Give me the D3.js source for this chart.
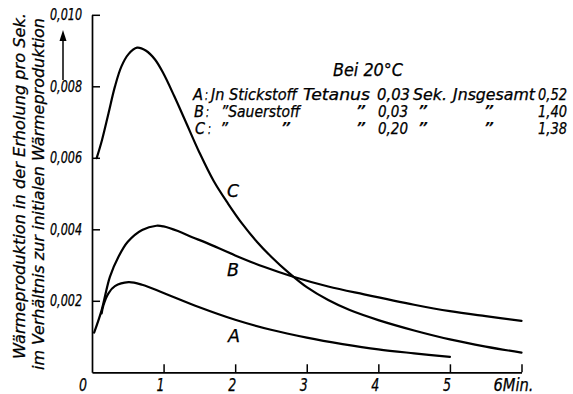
<!DOCTYPE html>
<html><head><meta charset="utf-8">
<script src="https://cdn.jsdelivr.net/npm/d3@7/dist/d3.min.js"></script>
<style>
html,body{margin:0;padding:0;background:#fff;}
svg text{font-family:"DejaVu Sans Condensed","Liberation Sans Narrow","DejaVu Sans",sans-serif;font-style:italic;fill:#000;stroke:#000;stroke-width:0.25px;}
</style></head>
<body>
<svg id="chart" width="573" height="394"></svg>
<script>
// ---- data ----
const xTicks = [0, 1, 2, 3, 4, 5, 6];
const xTickLabels = ["0", "1", "2", "3", "4", "5", "6Min."];
const yTicks = [0.002, 0.004, 0.006, 0.008, 0.010];
const yTickLabels = ["0,002", "0,004", "0,006", "0,008", "0,010"];

const timeA  = [0.135, 0.16, 0.23, 0.32, 0.51, 0.7, 1.0, 1.5, 2.0, 2.5, 3.0, 3.5, 4.0, 4.5, 5.0];
const valueA = [0.00165, 0.00188, 0.00221, 0.00241, 0.00252, 0.00245, 0.00222, 0.00182, 0.00147, 0.00119, 0.00097, 0.00079, 0.00064, 0.00053, 0.00043];

const timeB  = [0.03, 0.135, 0.25, 0.37, 0.5, 0.7, 0.9, 1.0, 1.2, 1.4, 1.6, 2.0, 2.4, 2.8, 3.3, 3.8, 4.5, 5.0, 5.5, 6.0];
const valueB = [0.00111, 0.00174, 0.00267, 0.00323, 0.00365, 0.00398, 0.00410, 0.00408, 0.00395, 0.00378, 0.00362, 0.00327, 0.00295, 0.00268, 0.00240, 0.00218, 0.00189, 0.00171, 0.00157, 0.00144];

const timeC  = [0.065, 0.14, 0.23, 0.32, 0.41, 0.51, 0.63, 0.75, 0.88, 1.0, 1.15, 1.3, 1.5, 1.7, 1.9, 2.1, 2.3, 2.5, 2.75, 3.0, 3.3, 3.6, 4.0, 4.5, 5.0, 5.5, 6.0];
const valueC = [0.00599, 0.0065, 0.00724, 0.00799, 0.00855, 0.0089, 0.00908, 0.0090, 0.00875, 0.00835, 0.00772, 0.00705, 0.00615, 0.00535, 0.00472, 0.00415, 0.00366, 0.00324, 0.00278, 0.00238, 0.00202, 0.00174, 0.00146, 0.00117, 0.00092, 0.00072, 0.00055];

const seriesNames = ["A", "B", "C"];
const legendTitle = "Bei 20°C";
const legendRowA = ["A", ":", "Jn Stickstoff", "Tetanus", "0,03", "Sek.", "Jnsgesamt", "0,52"];
const legendRowB = ["B", ":", "”Sauerstoff", "”", "0,03", "”", "”", "1,40"];
const legendRowC = ["C", ":", "”", "”", "”", "0,20", "”", "”", "1,38"];
const yTitle1 = "Wärmeproduktion in der Erholung pro Sek.";
const yTitle2 = "im Verhältnis zur initialen Wärmeproduktion";

// ---- layout ----
const svg = d3.select("#chart");
const x = d3.scaleLinear().domain([0, 6]).range([92, 521.5]);
const y = d3.scaleLinear().domain([0, 0.010]).range([372.3, 14.8]);

// axes
const gx = svg.append("g").attr("transform", `translate(0,${y(0)})`)
  .call(d3.axisBottom(x).tickValues(xTicks).tickSize(-8).tickSizeOuter(0).tickFormat(""));
const gy = svg.append("g").attr("transform", `translate(${x(0)},0)`)
  .call(d3.axisLeft(y).tickValues(yTicks).tickSize(-8).tickSizeOuter(0).tickFormat(""));
[gx, gy].forEach(g => {
  g.selectAll("path.domain").attr("stroke", "#000").attr("stroke-width", 1.7);
  g.selectAll(".tick line").attr("stroke", "#000").attr("stroke-width", 1.5);
});
gx.select(".tick line").remove(); // tick at 0 coincides with y-axis

// x tick labels
svg.append("g").selectAll("text").data(xTicks).join("text")
  .attr("x", (d, i) => i === 0 ? x(d) - 13 : (i === xTicks.length - 1 ? x(d) - 28 : x(d) - 7))
  .attr("y", 391)
  .attr("font-size", 17)
  .attr("textLength", (d, i) => i === xTicks.length - 1 ? 40 : 8)
  .attr("lengthAdjust", "spacingAndGlyphs")
  .text((d, i) => xTickLabels[i]);

// y tick labels
svg.append("g").selectAll("text").data(yTicks).join("text")
  .attr("x", 50)
  .attr("y", d => y(d) + 5.5)
  .attr("font-size", 15)
  .attr("textLength", 32)
  .attr("lengthAdjust", "spacingAndGlyphs")
  .text((d, i) => yTickLabels[i]);

// y title (two rotated lines)
svg.append("text")
  .attr("transform", "translate(25,359) rotate(-90)")
  .attr("font-size", 16)
  .attr("textLength", 346).attr("lengthAdjust", "spacingAndGlyphs")
  .text(yTitle1);
svg.append("text")
  .attr("transform", "translate(44,370) rotate(-90)")
  .attr("font-size", 16)
  .attr("textLength", 352).attr("lengthAdjust", "spacingAndGlyphs")
  .text(yTitle2);

// arrow
svg.append("line").attr("x1", 63).attr("y1", 80).attr("x2", 63).attr("y2", 38)
  .attr("stroke", "#000").attr("stroke-width", 1.5);
svg.append("path").attr("d", "M63,30 L59.5,41 L66.5,41 Z").attr("fill", "#000");

// curves
const line = d3.line().x(d => x(d[0])).y(d => y(d[1])).curve(d3.curveCatmullRom.alpha(0.5));
const series = [
  d3.zip(timeA, valueA),
  d3.zip(timeB, valueB),
  d3.zip(timeC, valueC)
];
svg.append("g").selectAll("path").data(series).join("path")
  .attr("d", line).attr("fill", "none").attr("stroke", "#000")
  .attr("stroke-width", 2.2).attr("stroke-linecap", "round").attr("stroke-linejoin", "round");

// curve labels
const curveLabelPos = [[228, 342], [227, 276], [227, 197]];
svg.append("g").selectAll("text").data(seriesNames).join("text")
  .attr("x", (d, i) => curveLabelPos[i][0])
  .attr("y", (d, i) => curveLabelPos[i][1])
  .attr("font-size", 18)
  .attr("textLength", 12).attr("lengthAdjust", "spacingAndGlyphs")
  .text(d => d);

// legend
svg.append("text").attr("x", 333).attr("y", 76).attr("font-size", 17)
  .attr("textLength", 70).attr("lengthAdjust", "spacingAndGlyphs").text(legendTitle);

// column layout: [x start, width] per piece
const rows = [
  {pieces: legendRowA, base: 100,
   cols: [[193, 10], [205, 3], [211, 86], [303, 67], [377, 33], [413, 34], [453, 82], [538, 29]]},
  {pieces: legendRowB, base: 117,
   cols: [[194, 10], [206, 3], [221, 79], [355, 10], [378, 30], [417, 10], [483, 10], [538, 29]]},
  {pieces: legendRowC, base: 134,
   cols: [[195, 10], [208, 3], [220, 8], [280, 10], [355, 10], [378, 30], [417, 10], [483, 10], [538, 29]]}
];

rows.forEach(r => {
  svg.append("g").selectAll("text").data(r.pieces).join("text")
    .attr("x", (d, i) => r.cols[i][0])
    .attr("y", r.base)
    .attr("font-size", 15)
    .attr("textLength", (d, i) => r.cols[i][1])
    .attr("lengthAdjust", "spacingAndGlyphs")
    .text(d => d);
});
</script>
</body></html>
